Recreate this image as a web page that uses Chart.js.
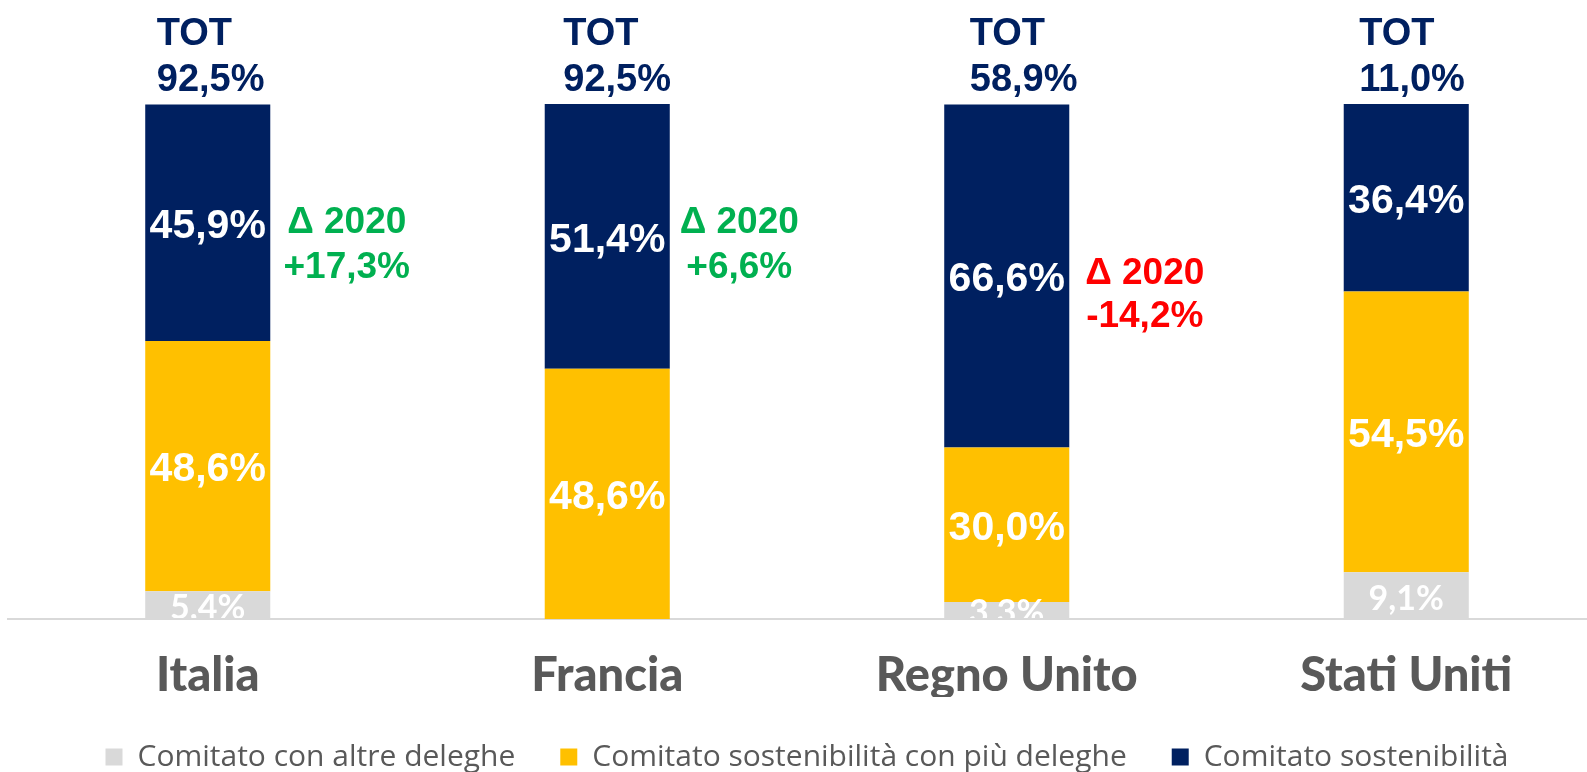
<!DOCTYPE html>
<html>
<head>
<meta charset="utf-8">
<script src="https://cdn.jsdelivr.net/npm/chart.js@4.4.1/dist/chart.umd.min.js"></script>
<style>
  html, body { margin: 0; padding: 0; background: #ffffff; overflow: hidden; width: 1587px; height: 772px; }
  #wrap { position: relative; width: 1587px; height: 772px; overflow: hidden; }
  canvas { position: absolute; left: 0; top: 0; }
</style>
</head>
<body>
<div id="wrap"><canvas id="c" width="1606" height="782"></canvas></div>
<script>
const categories = ['Italia', 'Francia', 'Regno Unito', 'Stati Uniti'];
const seriesNames = ['Comitato con altre deleghe', 'Comitato sostenibilità con più deleghe', 'Comitato sostenibilità'];
const altreDeleghe = [5.4, 0, 3.3, 9.1];
const piuDeleghe = [48.6, 48.6, 30.0, 54.5];
const sostenibilita = [45.9, 51.4, 66.6, 36.4];
const totLabels = ['92,5%', '92,5%', '58,9%', '11,0%'];
const deltaLabels = ['+17,3%', '+6,6%', '-14,2%', null];

const NAVY = '#002060', YELLOW = '#FFC000', GREY = '#D9D9D9';
const GREEN = '#00B050', RED = '#FF0000', TXT = '#595959';

const fmt = v => v.toFixed(1).replace('.', ',') + '%';

// annotation placement (pixel offsets relative to bar centre)
const totOffsetX = [-51, -44, -37, -47];
const deltaLayout = [
  { dx: 139, y1: 223, y2: 268 },
  { dx: 132, y1: 223, y2: 268 },
  { dx: 138, y1: 274, y2: 317 },
  null
];

const labelPlugin = {
  id: 'barLabels',
  afterDatasetsDraw(chart) {
    const ctx = chart.ctx;
    const area = chart.chartArea;
    ctx.save();
    ctx.beginPath();
    ctx.rect(0, 0, chart.width, area.bottom - 1);
    ctx.clip();
    ctx.textAlign = 'center';
    ctx.textBaseline = 'middle';
    ctx.fillStyle = '#ffffff';
    chart.data.datasets.forEach((ds, di) => {
      const meta = chart.getDatasetMeta(di);
      meta.data.forEach((bar, i) => {
        const v = ds.data[i];
        if (!v) return;
        const yc = (bar.y + bar.base) / 2;
        if (di === 0) {
          ctx.font = 'bold 34px Lato';
          ctx.fillText(fmt(v), bar.x, yc + 3);
        } else {
          ctx.font = 'bold 41px "Liberation Sans"';
          ctx.fillText(fmt(v), bar.x, yc + 4);
        }
      });
    });
    ctx.restore();

    ctx.save();
    const meta = chart.getDatasetMeta(2);
    meta.data.forEach((bar, i) => {
      ctx.fillStyle = NAVY;
      ctx.font = 'bold 38px "Liberation Sans"';
      ctx.textAlign = 'left';
      ctx.textBaseline = 'middle';
      const x0 = bar.x + totOffsetX[i];
      ctx.fillText('TOT', x0, 35);
      ctx.fillText(totLabels[i], x0, 81);
      const d = deltaLayout[i];
      if (d && deltaLabels[i]) {
        ctx.fillStyle = deltaLabels[i].startsWith('-') ? RED : GREEN;
        ctx.textAlign = 'center';
        ctx.font = 'bold 37px "Liberation Sans"';
        ctx.fillText('\u0394 2020', bar.x + d.dx, d.y1);
        ctx.fillText(deltaLabels[i], bar.x + d.dx, d.y2);
      }
    });
    ctx.restore();
  }
};

new Chart(document.getElementById('c'), {
  type: 'bar',
  data: {
    labels: categories,
    datasets: [
      { label: seriesNames[0], data: altreDeleghe, backgroundColor: GREY },
      { label: seriesNames[1], data: piuDeleghe, backgroundColor: YELLOW },
      { label: seriesNames[2], data: sostenibilita, backgroundColor: NAVY }
    ]
  },
  options: {
    responsive: false,
    animation: false,
    events: [],
    layout: { padding: { left: 8, right: 0, top: 104, bottom: 0 } },
    datasets: { bar: { barPercentage: 1, categoryPercentage: 0.313, borderWidth: 0 } },
    scales: {
      x: {
        stacked: true,
        grid: { display: false, drawTicks: false },
        border: { display: true, color: '#D9D9D9', width: 2 },
        ticks: { color: TXT, padding: 52, font: { family: 'Lato', size: 47, weight: '900', lineHeight: 0.22 } },
        afterFit(scale) { scale.height = 78; }
      },
      y: { stacked: true, display: false, min: 0, max: 100 }
    },
    plugins: {
      legend: {
        position: 'bottom',
        labels: {
          boxWidth: 17, boxHeight: 17, padding: 45, color: TXT,
          font: { family: 'Open Sans', size: 30 }
        }
      },
      tooltip: { enabled: false }
    }
  },
  plugins: [labelPlugin]
});
</script>
</body>
</html>
